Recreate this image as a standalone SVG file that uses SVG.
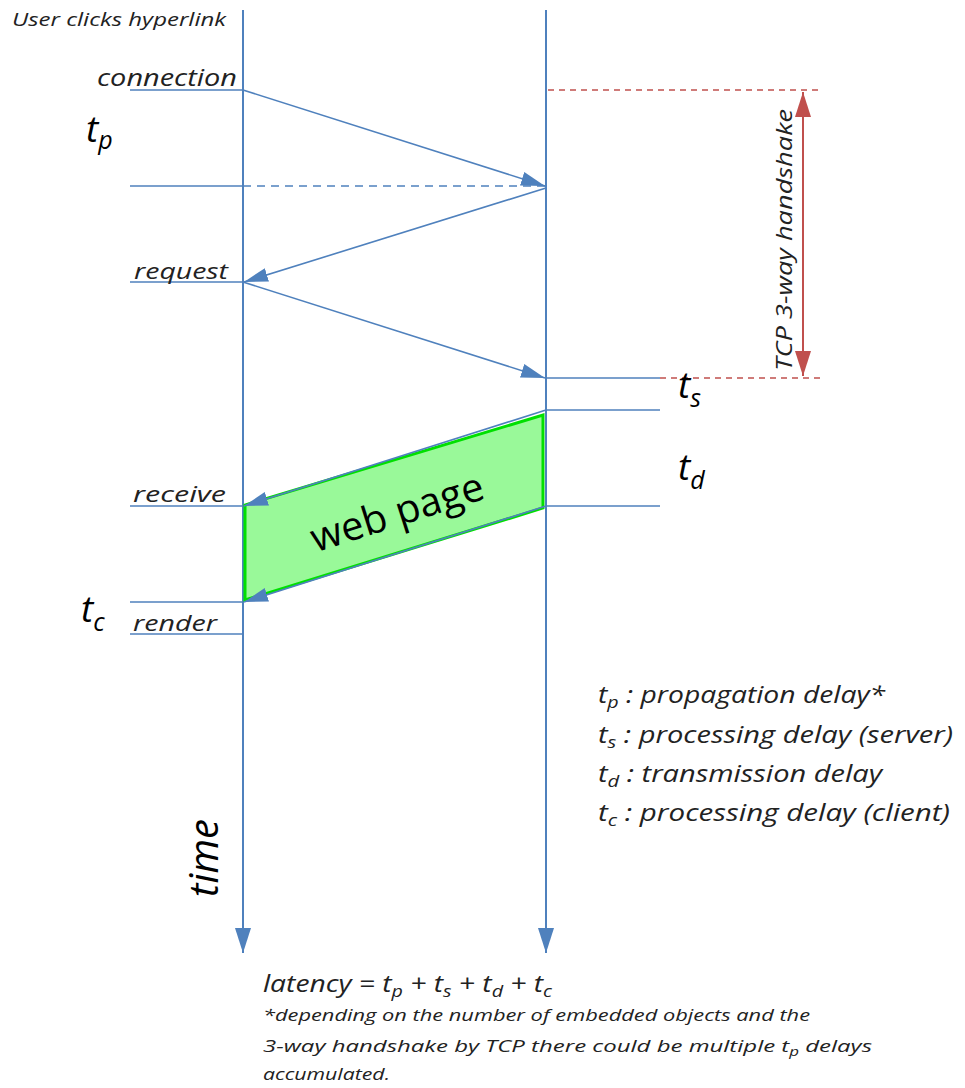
<svg xmlns="http://www.w3.org/2000/svg" width="965" height="1088" viewBox="0 0 965 1088">
  <defs>
    <style>
      .lane { stroke: #4F81BD; stroke-width: 2; fill: none; }
      .msg { stroke: #4F81BD; stroke-width: 1.6; fill: none; }
      .tick { stroke: #4F81BD; stroke-width: 1.6; fill: none; }
      .dash { stroke: #4F81BD; stroke-width: 1.6; fill: none; stroke-dasharray: 8 6; }
      .rdash { stroke: #C0504D; stroke-width: 1.4; fill: none; stroke-dasharray: 6 5; }
      .rarrow { stroke: #C0504D; stroke-width: 2; fill: none; }
      .lbl { font-family: "Open Sans", "Liberation Sans", sans-serif; font-style: italic; fill: #222; }
      .sym { font-family: "Open Sans", "Liberation Sans", sans-serif; font-style: italic; fill: #000; }
      .page { font-family: "Open Sans", "Liberation Sans", sans-serif; fill: #000; }
    </style>
    <marker id="ah" viewBox="0 0 24 14" refX="24" refY="7" markerWidth="24" markerHeight="14" markerUnits="userSpaceOnUse" orient="auto">
      <path d="M0,0 L24,7 L0,14 z" fill="#4F81BD"/>
    </marker>
    <marker id="ahTime" viewBox="0 0 16 25" refX="8" refY="25" markerWidth="16" markerHeight="25" markerUnits="userSpaceOnUse" orient="0">
      <path d="M0,0 L16,0 L8,25 z" fill="#4F81BD"/>
    </marker>
    <marker id="ahRed" viewBox="0 0 25 16" refX="25" refY="8" markerWidth="25" markerHeight="16" markerUnits="userSpaceOnUse" orient="auto-start-reverse">
      <path d="M0,0 L25,8 L0,16 z" fill="#C0504D"/>
    </marker>
  </defs>

  <rect width="965" height="1088" fill="#fff"/>

  <!-- client and server time lines -->
  <g id="client-lane">
    <line class="lane" x1="243" y1="10" x2="243" y2="953" marker-end="url(#ahTime)"/>
  </g>
  <g id="server-lane">
    <line class="lane" x1="546" y1="10" x2="546" y2="953" marker-end="url(#ahTime)"/>
  </g>

  <!-- web page transfer block -->
  <g id="web-page">
    <polygon points="543,415 543,508 245,600 245,505" fill="#99F999" stroke="#00E000" stroke-width="3" stroke-linejoin="miter"/>
    <text class="page" x="397" y="526" font-size="40" text-anchor="middle" transform="rotate(-17.6 397 512)">web page</text>
  </g>

  <!-- time marks and messages -->
  <g id="connectors">
    <line class="tick" x1="130" y1="90" x2="243" y2="90"/>
    <line class="tick" x1="130" y1="186" x2="243" y2="186"/>
    <line class="dash" x1="243" y1="186" x2="546" y2="186"/>
    <line class="tick" x1="130" y1="282" x2="243" y2="282"/>
    <line class="tick" x1="130" y1="506" x2="243" y2="506"/>
    <line class="tick" x1="130" y1="602" x2="243" y2="602"/>
    <line class="tick" x1="130" y1="634" x2="243" y2="634"/>
    <line class="tick" x1="546" y1="378" x2="660" y2="378"/>
    <line class="tick" x1="546" y1="410" x2="660" y2="410"/>
    <line class="tick" x1="546" y1="506" x2="660" y2="506"/>

    <line class="msg" x1="243" y1="90" x2="545" y2="186" marker-end="url(#ah)"/>
    <line class="msg" x1="546" y1="188" x2="244" y2="282" marker-end="url(#ah)"/>
    <line class="msg" x1="243" y1="282" x2="545" y2="378" marker-end="url(#ah)"/>
    <line class="msg" x1="546" y1="410" x2="244" y2="506" marker-end="url(#ah)"/>
    <line class="msg" x1="546" y1="506" x2="244" y2="602" marker-end="url(#ah)"/>

    <!-- handshake span -->
    <line class="rdash" x1="548" y1="90" x2="820" y2="90"/>
    <line class="rdash" x1="660" y1="378" x2="820" y2="378"/>
    <line class="rarrow" x1="803" y1="92" x2="803" y2="376" marker-start="url(#ahRed)" marker-end="url(#ahRed)"/>
  </g>

  <!-- labels -->
  <g id="labels">
    <text class="lbl" x="12" y="26" font-size="18" textLength="214" lengthAdjust="spacingAndGlyphs">User clicks  hyperlink</text>
    <text class="lbl" x="97" y="86" font-size="23" textLength="140" lengthAdjust="spacingAndGlyphs">connection</text>
    <text class="lbl" x="134" y="279" font-size="22" textLength="94" lengthAdjust="spacingAndGlyphs">request</text>
    <text class="lbl" x="133" y="502" font-size="22" textLength="93" lengthAdjust="spacingAndGlyphs">receive</text>
    <text class="lbl" x="133" y="631" font-size="22" textLength="84" lengthAdjust="spacingAndGlyphs">render</text>

    <text class="sym" x="86" y="142" font-size="37">t<tspan font-size="25" dy="7">p</tspan></text>
    <text class="sym" x="678" y="398" font-size="37">t<tspan font-size="25" dy="9">s</tspan></text>
    <text class="sym" x="678" y="480" font-size="37">t<tspan font-size="25" dy="9">d</tspan></text>
    <text class="sym" x="81" y="622" font-size="37">t<tspan font-size="25" dy="9">c</tspan></text>

    <text class="lbl" x="792" y="240" font-size="22" text-anchor="middle" transform="rotate(-90 792 240)" textLength="262" lengthAdjust="spacingAndGlyphs">TCP 3-way handshake</text>

    <text class="sym" x="218" y="858" font-size="40" text-anchor="middle" transform="rotate(-90 218 858)">time</text>
  </g>

  <!-- legend -->
  <g id="legend">
    <text class="lbl" x="598" y="703" font-size="23" textLength="287" lengthAdjust="spacingAndGlyphs">t<tspan font-size="16" dy="5">p</tspan><tspan dy="-5"> : propagation  delay*</tspan></text>
    <text class="lbl" x="598" y="743" font-size="23" textLength="355" lengthAdjust="spacingAndGlyphs">t<tspan font-size="16" dy="5">s</tspan><tspan dy="-5"> : processing delay (server)</tspan></text>
    <text class="lbl" x="598" y="782" font-size="23" textLength="284" lengthAdjust="spacingAndGlyphs">t<tspan font-size="16" dy="5">d</tspan><tspan dy="-5"> : transmission  delay</tspan></text>
    <text class="lbl" x="598" y="821" font-size="23" textLength="352" lengthAdjust="spacingAndGlyphs">t<tspan font-size="16" dy="5">c</tspan><tspan dy="-5"> : processing delay (client)</tspan></text>
  </g>

  <!-- latency formula and footnote -->
  <g id="formula">
    <text class="lbl" x="263" y="992" font-size="23" textLength="289" lengthAdjust="spacingAndGlyphs">latency = t<tspan font-size="16" dy="5">p</tspan><tspan dy="-5"> + t</tspan><tspan font-size="16" dy="5">s</tspan><tspan dy="-5"> + t</tspan><tspan font-size="16" dy="5">d</tspan><tspan dy="-5"> + t</tspan><tspan font-size="16" dy="5">c</tspan></text>
    <text class="lbl" x="263" y="1021" font-size="17" textLength="547" lengthAdjust="spacingAndGlyphs">*depending on the number of embedded objects and the</text>
    <text class="lbl" x="263" y="1052" font-size="17" textLength="609" lengthAdjust="spacingAndGlyphs">3-way handshake  by TCP there could be multiple t<tspan font-size="12" dy="4">p</tspan><tspan dy="-4"> delays</tspan></text>
    <text class="lbl" x="263" y="1080" font-size="17" textLength="127" lengthAdjust="spacingAndGlyphs">accumulated.</text>
  </g>
</svg>
